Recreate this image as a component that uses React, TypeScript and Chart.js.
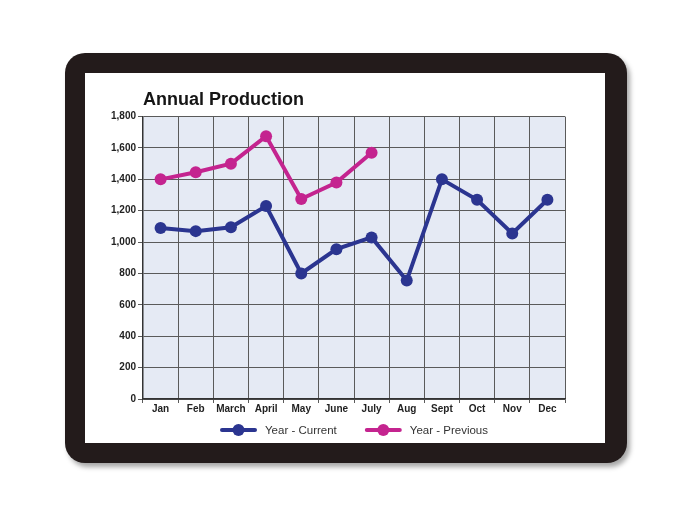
import React, { useEffect, useRef } from "react";
import { Chart, registerables } from "chart.js";

Chart.register(...registerables);

const months = ["Jan", "Feb", "March", "April", "May", "June", "July", "Aug", "Sept", "Oct", "Nov", "Dec"];
const currentYear = [1090, 1070, 1095, 1230, 800, 955, 1030, 755, 1400, 1270, 1055, 1270];
const previousYear = [1400, 1445, 1500, 1675, 1275, 1380, 1570];
const yTicks = [0, 200, 400, 600, 800, 1000, 1200, 1400, 1600, 1800];

const BLUE = "#2b3590";
const PINK = "#c4248f";
const FONT = "'Liberation Sans', Arial, Helvetica, sans-serif";

const plotBg = {
  id: "plotBg",
  beforeDraw(chart: any) {
    const { ctx, chartArea } = chart;
    if (!chartArea) return;
    ctx.save();
    ctx.fillStyle = "#e5eaf4";
    ctx.fillRect(chartArea.left, chartArea.top, chartArea.right - chartArea.left, chartArea.bottom - chartArea.top);
    ctx.restore();
  },
};

const lineLegend = {
  id: "lineLegend",
  afterDraw(chart: any) {
    const { ctx, chartArea } = chart;
    const iconW = 37;
    const iconGap = 8;
    const itemGap = 28;
    const y = chart.height - 13;
    ctx.save();
    ctx.font = `11.5px ${FONT}`;
    ctx.textBaseline = "middle";
    const ds = chart.data.datasets;
    const widths = ds.map((d: any) => iconW + iconGap + ctx.measureText(d.label).width);
    const total = widths.reduce((a: number, b: number) => a + b, 0) + itemGap * (ds.length - 1);
    let x = (chartArea.left + chartArea.right) / 2 - total / 2;
    ds.forEach((d: any, i: number) => {
      const color = d.borderColor;
      ctx.strokeStyle = color;
      ctx.lineWidth = 4;
      ctx.lineCap = "round";
      ctx.beginPath();
      ctx.moveTo(x + 2, y);
      ctx.lineTo(x + iconW - 2, y);
      ctx.stroke();
      ctx.fillStyle = color;
      ctx.beginPath();
      ctx.arc(x + iconW / 2, y, 6, 0, Math.PI * 2);
      ctx.fill();
      ctx.fillStyle = "#333";
      ctx.fillText(d.label, x + iconW + iconGap, y + 0.5);
      x += widths[i] + itemGap;
    });
    ctx.restore();
  },
};

export default function App() {
  const ref = useRef<HTMLCanvasElement | null>(null);

  useEffect(() => {
    if (!ref.current) return;
    const chart = new Chart(ref.current, {
      type: "line",
      data: {
        labels: months,
        datasets: [
          {
            label: "Year - Current",
            data: currentYear,
            borderColor: BLUE,
            backgroundColor: BLUE,
            borderWidth: 4,
            pointRadius: 6,
            pointHoverRadius: 6,
            pointBackgroundColor: BLUE,
            pointBorderWidth: 0,
            tension: 0,
          },
          {
            label: "Year - Previous",
            data: previousYear,
            borderColor: PINK,
            backgroundColor: PINK,
            borderWidth: 4,
            pointRadius: 6,
            pointHoverRadius: 6,
            pointBackgroundColor: PINK,
            pointBorderWidth: 0,
            tension: 0,
          },
        ],
      },
      options: {
        animation: false,
        responsive: false,
        maintainAspectRatio: false,
        layout: { padding: { left: 0, right: 40, top: 0, bottom: 28 } },
        plugins: {
          title: {
            display: true,
            text: "Annual Production",
            align: "start",
            fullSize: false,
            color: "#151515",
            font: { family: FONT, size: 18, weight: "bold" },
            padding: { top: 16, bottom: 6 },
          },
          legend: { display: false },
          tooltip: { enabled: false },
        },
        scales: {
          x: {
            offset: true,
            grid: {
              offset: true,
              color: "#5a5a5a",
              lineWidth: 1,
              tickLength: 4,
              drawTicks: true,
            },
            border: { color: "#333", width: 1.5 },
            ticks: {
              color: "#222",
              font: { family: FONT, size: 10, weight: "bold" },
              padding: 0,
              maxRotation: 0,
              autoSkip: false,
            },
          },
          y: {
            min: 0,
            max: 1800,
            afterBuildTicks(scale: any) {
              scale.ticks = yTicks.map((v) => ({ value: v }));
            },
            afterFit(scale: any) {
              scale.width = 58;
            },
            grid: {
              color: "#5a5a5a",
              lineWidth: 1,
              tickLength: 5,
            },
            border: { color: "#333", width: 1.5 },
            ticks: {
              color: "#222",
              font: { family: FONT, size: 10, weight: "bold" },
              padding: 2,
              callback: (v: any) => Number(v).toLocaleString("en-US"),
            },
          },
        },
      },
      plugins: [plotBg, lineLegend],
    } as any);
    return () => chart.destroy();
  }, []);

  return (
    <div style={{ position: "fixed", left: 0, top: 0, width: 700, height: 525, background: "#fff" }}>
      <div
        style={{
          position: "absolute",
          left: 65,
          top: 53,
          width: 562,
          height: 410,
          background: "#231b1b",
          borderRadius: 20,
          boxShadow: "3px 4px 5px rgba(0,0,0,0.35)",
        }}
      />
      <div
        style={{
          position: "absolute",
          left: 85,
          top: 73,
          width: 520,
          height: 370,
          background: "#fff",
        }}
      >
        <canvas ref={ref} width={520} height={370} style={{ display: "block", width: 520, height: 370 }} />
      </div>
    </div>
  );
}
